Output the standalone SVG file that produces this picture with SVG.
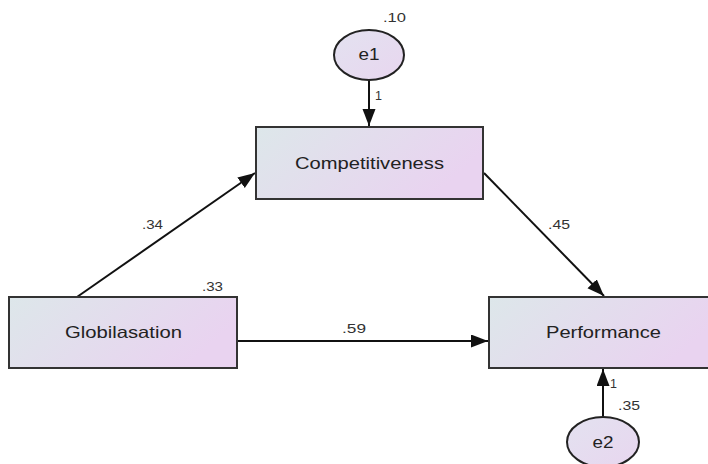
<svg xmlns="http://www.w3.org/2000/svg" width="708" height="464" viewBox="0 0 708 464">
<defs>
<linearGradient id="gbox" x1="0" y1="0" x2="1" y2="0.35">
<stop offset="0" stop-color="#dde7ea"/>
<stop offset="1" stop-color="#e9d3f0"/>
</linearGradient>
<linearGradient id="gell" x1="0" y1="0" x2="1" y2="1">
<stop offset="0" stop-color="#e3e2f0"/>
<stop offset="1" stop-color="#e8d6ef"/>
</linearGradient>
<marker id="ah" markerUnits="userSpaceOnUse" markerWidth="18" markerHeight="14" refX="17" refY="6.5" orient="auto">
<path d="M0,0 L17,6.5 L0,13 Z" fill="#111"/>
</marker>
<style>
.box{fill:url(#gbox);stroke:#333;stroke-width:2}
.ell{fill:url(#gell);stroke:#222;stroke-width:2}
.lbl{font-family:"Liberation Sans",Arial,sans-serif;font-size:16.5px;fill:#222;text-anchor:middle}
.num{font-family:"Liberation Sans",Arial,sans-serif;font-size:12.5px;fill:#333}
.edge{stroke:#111;stroke-width:2;fill:none;marker-end:url(#ah)}
</style>
</defs>
<g id="connectors">
<line class="edge" x1="77" y1="297" x2="255" y2="173"/>
<line class="edge" x1="484" y1="173" x2="604" y2="296"/>
<line class="edge" x1="237" y1="341" x2="488" y2="341"/>
<line class="edge" x1="369" y1="80" x2="369" y2="126"/>
<line class="edge" x1="603" y1="417" x2="603" y2="369"/>
<text class="num" x="142" y="229" textLength="21" lengthAdjust="spacingAndGlyphs">.34</text>
<text class="num" x="548" y="229" textLength="22" lengthAdjust="spacingAndGlyphs">.45</text>
<text class="num" x="342" y="333" textLength="24" lengthAdjust="spacingAndGlyphs">.59</text>
<text class="num" x="375" y="100">1</text>
<text class="num" x="610" y="388">1</text>
</g>
<g id="e1">
<ellipse class="ell" cx="369" cy="55" rx="35" ry="25"/>
<text class="lbl" x="369" y="60" textLength="21" lengthAdjust="spacingAndGlyphs">e1</text>
<text class="num" x="383" y="22" textLength="23" lengthAdjust="spacingAndGlyphs">.10</text>
</g>
<g id="competitiveness">
<rect class="box" x="256" y="127" width="227" height="72"/>
<text class="lbl" x="369.5" y="169" textLength="149" lengthAdjust="spacingAndGlyphs">Competitiveness</text>
</g>
<g id="globilasation">
<rect class="box" x="9" y="297" width="228" height="71"/>
<text class="lbl" x="123.5" y="338" textLength="117" lengthAdjust="spacingAndGlyphs">Globilasation</text>
<text class="num" x="202" y="291" textLength="21" lengthAdjust="spacingAndGlyphs">.33</text>
</g>
<g id="performance">
<rect class="box" x="489" y="297" width="228" height="71"/>
<text class="lbl" x="603.5" y="338" textLength="115" lengthAdjust="spacingAndGlyphs">Performance</text>
</g>
<g id="e2">
<ellipse class="ell" cx="603" cy="442" rx="36" ry="25"/>
<text class="lbl" x="603" y="448" textLength="21" lengthAdjust="spacingAndGlyphs">e2</text>
<text class="num" x="618" y="410" textLength="22" lengthAdjust="spacingAndGlyphs">.35</text>
</g>
</svg>
